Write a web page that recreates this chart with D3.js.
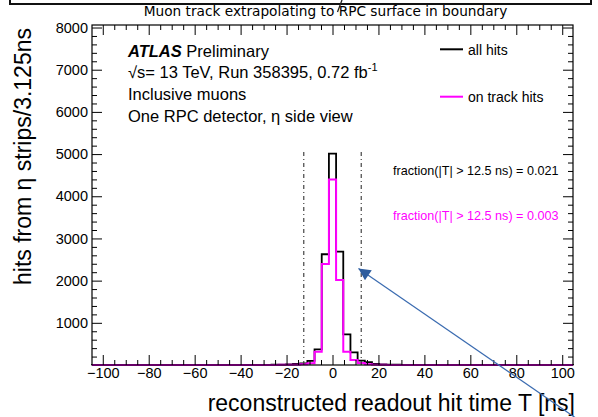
<!DOCTYPE html>
<html><head><meta charset="utf-8">
<script src="https://cdn.jsdelivr.net/npm/d3@7"></script>
<style>
html,body{margin:0;padding:0;background:#fff;}
svg{display:block;}
text{font-family:"Liberation Sans",Arial,Helvetica,sans-serif;}
</style></head>
<body>
<svg id="c" width="598" height="417"></svg>
<script>
// ---- data ----
const binWidth = 3.125;
const binIndex = d3.range(-33, 34);              // bin centres = index * 3.125 ns
const allHits = [2,1,2,1,2,2,1,2,2,3,2,2,3,2,3,3,2,3,3,4,3,4,4,5,5,6,
  8,14,25,40,100,372,2625,5010,2687,728,300,102,65,25,12,8,
  6,5,5,4,4,3,3,3,3,2,3,2,2,2,3,2,2,1,2,2,1,2,1,2,1];
const onTrackHits = [0,0,1,0,0,1,0,0,1,0,1,0,0,1,0,1,0,1,1,0,1,1,1,1,2,2,
  3,5,8,15,40,316,2395,4400,2016,316,118,45,18,6,3,2,
  1,1,1,1,0,1,0,1,0,0,1,0,0,1,0,0,0,1,0,0,0,1,0,0,0];
const xMajorTicks = [-100,-80,-60,-40,-20,0,20,40,60,80,100];
const yMajorTicks = [1000,2000,3000,4000,5000,6000,7000,8000];
const cutValues = [-12.5, 12.5];
const cutLineTop = 5100;
const fractionAll = "fraction(|T| > 12.5 ns) = 0.021";
const fractionTrack = "fraction(|T| > 12.5 ns) = 0.003";
const legendLabels = ["all hits", "on track hits"];
const arrowTail = [106, -1260];
const arrowTip = [11.3, 2290];

// ---- layout ----
const svg = d3.select("#c");
const xEdge = 33.5 * binWidth;
const x = d3.scaleLinear().domain([-xEdge, xEdge]).range([92, 573]);
const y = d3.scaleLinear().domain([0, 8060]).range([365, 25]);
const black = "#000", mag = "#ff00ff";

// top decoration
svg.append("path").attr("d","M10,0V4H591V0").attr("fill","none").attr("stroke","#111").attr("stroke-width",2);
svg.append("line").attr("x1",342).attr("y1",0).attr("x2",337.5).attr("y2",12).attr("stroke","#222").attr("stroke-width",1.3);

// title
svg.append("text").attr("x",325.5).attr("y",15.5).attr("text-anchor","middle")
  .style("font-family","'DejaVu Sans',sans-serif").style("font-size","13.7px").text("Muon track extrapolating to RPC surface in boundary");

// histograms
function stepPath(vals){
  let p = d3.path();
  p.moveTo(x(-xEdge), y(0));
  binIndex.forEach((b,i)=>{
    const l = x((b-0.5)*binWidth), r = x((b+0.5)*binWidth);
    p.lineTo(l, y(vals[i])); p.lineTo(r, y(vals[i]));
  });
  p.lineTo(x(xEdge), y(0));
  return p.toString();
}
svg.append("path").attr("d",stepPath(allHits)).attr("fill","none").attr("stroke",black).attr("stroke-width",1.8);
svg.append("path").attr("d",stepPath(onTrackHits)).attr("fill","none").attr("stroke",mag).attr("stroke-width",2);

// cut lines
cutValues.forEach(c=>{
  svg.append("line").attr("x1",x(c)).attr("x2",x(c)).attr("y1",y(0)).attr("y2",y(cutLineTop))
    .attr("stroke","#333").attr("stroke-width",1.1).attr("stroke-dasharray","4,3,1,3");
});

// axes
const font = "14.5px";
function styleAxis(g){ g.select(".domain").remove(); g.selectAll("line").attr("stroke","#000").attr("stroke-width",1); g.selectAll("text").style("font-size",font).style("font-family","'Liberation Sans',Arial,sans-serif").attr("fill","#000"); }
const xMinor = d3.range(-100,101,5).filter(v=>v%20!==0);
const yMinor = d3.range(200,8060,200).filter(v=>v%1000!==0);
svg.append("g").attr("transform","translate(0,365)").call(d3.axisBottom(x).tickValues(xMajorTicks).tickSizeInner(-10).tickSizeOuter(0).tickPadding(3)).call(styleAxis);
svg.append("g").attr("transform","translate(0,365)").call(d3.axisBottom(x).tickValues(xMinor).tickSizeInner(-5).tickSizeOuter(0).tickFormat("")).call(styleAxis);
svg.append("g").attr("transform","translate(0,25)").call(d3.axisTop(x).tickValues(xMajorTicks).tickSizeInner(-10).tickSizeOuter(0).tickFormat("")).call(styleAxis);
svg.append("g").attr("transform","translate(0,25)").call(d3.axisTop(x).tickValues(xMinor).tickSizeInner(-5).tickSizeOuter(0).tickFormat("")).call(styleAxis);
svg.append("g").attr("transform","translate(92,0)").call(d3.axisLeft(y).tickValues(yMajorTicks).tickSizeInner(-10).tickSizeOuter(0).tickPadding(4).tickFormat(d3.format("d"))).call(styleAxis);
svg.append("g").attr("transform","translate(92,0)").call(d3.axisLeft(y).tickValues(yMinor).tickSizeInner(-5).tickSizeOuter(0).tickFormat("")).call(styleAxis);
svg.append("g").attr("transform","translate(573,0)").call(d3.axisRight(y).tickValues(yMajorTicks).tickSizeInner(-10).tickSizeOuter(0).tickFormat("")).call(styleAxis);
svg.append("g").attr("transform","translate(573,0)").call(d3.axisRight(y).tickValues(yMinor).tickSizeInner(-5).tickSizeOuter(0).tickFormat("")).call(styleAxis);

// frame
svg.append("rect").attr("x",92).attr("y",25).attr("width",481).attr("height",340).attr("fill","none").attr("stroke","#000").attr("stroke-width",1.2);

// axis titles
svg.append("text").attr("x",575).attr("y",411).attr("text-anchor","end").style("font-size","23px").text("reconstructed readout hit time T [ns]");
svg.append("text").attr("transform","translate(31,28) rotate(-90)").attr("text-anchor","end").style("font-size","23px").text("hits from η strips/3.125ns");

// ATLAS label
const fs = "16.5px";
const t1 = svg.append("text").attr("x",128).attr("y",56.5).style("font-size",fs);
t1.append("tspan").style("font-weight","bold").style("font-style","italic").text("ATLAS");
t1.append("tspan").text(" Preliminary");
const t2 = svg.append("text").attr("x",128).attr("y",77.5).style("font-size",fs);
t2.append("tspan").text("√s= 13 TeV, Run 358395, 0.72 fb");
t2.append("tspan").attr("dy",-7).style("font-size","11px").text("-1");
svg.append("text").attr("x",128).attr("y",100).style("font-size",fs).text("Inclusive muons");
svg.append("text").attr("x",128).attr("y",122).style("font-size",fs).text("One RPC detector, η side view");

// legend
[[black,49.3,55],[mag,96.7,102]].forEach((d,i)=>{
  svg.append("line").attr("x1",440).attr("x2",463).attr("y1",d[1]).attr("y2",d[1]).attr("stroke",d[0]).attr("stroke-width",2);
  svg.append("text").attr("x",468).attr("y",d[2]).style("font-size","14px").text(legendLabels[i]);
});

// fractions
svg.append("text").attr("x",393).attr("y",174.5).style("font-size","12.6px").attr("fill",black).text(fractionAll);
svg.append("text").attr("x",393).attr("y",220).style("font-size","12.6px").attr("fill",mag).text(fractionTrack);

// arrow annotation
const defs = svg.append("defs");
defs.append("marker").attr("id","ah").attr("viewBox","0 0 10 10").attr("refX",10).attr("refY",5)
  .attr("markerUnits","userSpaceOnUse").attr("markerWidth",16).attr("markerHeight",12).attr("orient","auto")
  .append("path").attr("d","M0,0L10,5L0,10Z").attr("fill","#2f5d9e");
svg.append("line").attr("x1",x(arrowTail[0])).attr("y1",y(arrowTail[1])).attr("x2",x(arrowTip[0])).attr("y2",y(arrowTip[1]))
  .attr("stroke","#3a6bb0").attr("stroke-width",1.2).attr("marker-end","url(#ah)");
</script>
</body></html>
